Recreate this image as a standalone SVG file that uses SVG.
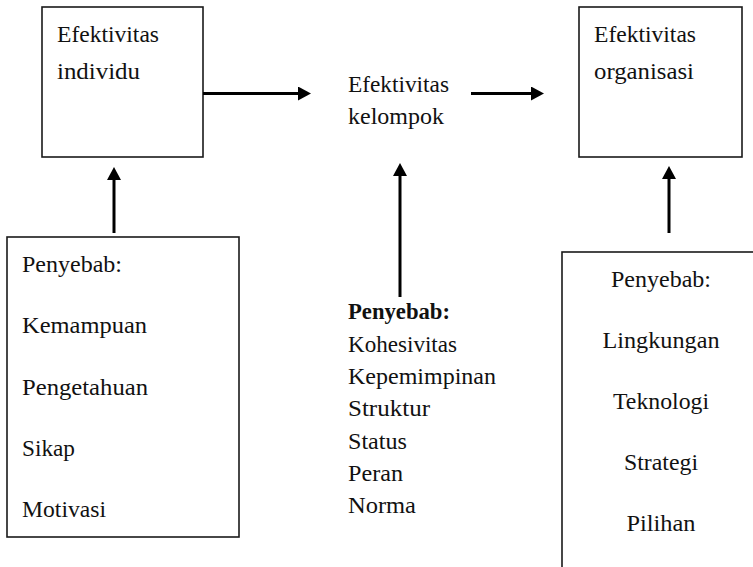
<svg xmlns="http://www.w3.org/2000/svg" width="753" height="567" viewBox="0 0 753 567">
  <style>
    .box { fill: #ffffff; stroke: #1a1a1a; stroke-width: 1.6; }
    .lbl { font-family: "Liberation Serif", "Times New Roman", serif; font-size: 23.5px; fill: #111111; }
    .bold { font-weight: bold; }
    .mid { text-anchor: middle; }
    .conn { stroke: #000000; stroke-width: 3; fill: none; marker-end: url(#head); }
  </style>
  <defs>
    <marker id="head" markerUnits="userSpaceOnUse" markerWidth="14" markerHeight="14" refX="2" refY="7" orient="auto">
      <path d="M0,0 L13,7 L0,14 z" fill="#000000"/>
    </marker>
  </defs>
  <rect x="0" y="0" width="753" height="567" fill="#ffffff"/>

  <!-- individual effectiveness -->
  <g id="individu">
    <rect class="box" x="42" y="7" width="161" height="150"/>
    <text class="lbl" x="57" y="42" textLength="102" lengthAdjust="spacingAndGlyphs">Efektivitas</text>
    <text class="lbl" x="57" y="79" textLength="83" lengthAdjust="spacingAndGlyphs">individu</text>
  </g>

  <!-- group effectiveness -->
  <g id="kelompok">
    <text class="lbl" x="348" y="92" textLength="101" lengthAdjust="spacingAndGlyphs">Efektivitas</text>
    <text class="lbl" x="348" y="124" textLength="96" lengthAdjust="spacingAndGlyphs">kelompok</text>
  </g>

  <!-- organisational effectiveness -->
  <g id="organisasi">
    <rect class="box" x="579" y="7" width="163" height="150"/>
    <text class="lbl" x="594" y="42" textLength="102" lengthAdjust="spacingAndGlyphs">Efektivitas</text>
    <text class="lbl" x="594" y="79" textLength="100" lengthAdjust="spacingAndGlyphs">organisasi</text>
  </g>

  <!-- causes: individual -->
  <g id="penyebab-individu">
    <rect class="box" x="7" y="237" width="232" height="300"/>
    <text class="lbl" x="22" y="272" textLength="100" lengthAdjust="spacingAndGlyphs">Penyebab:</text>
    <text class="lbl" x="22" y="333" textLength="125" lengthAdjust="spacingAndGlyphs">Kemampuan</text>
    <text class="lbl" x="22" y="395" textLength="126" lengthAdjust="spacingAndGlyphs">Pengetahuan</text>
    <text class="lbl" x="22" y="456" textLength="53" lengthAdjust="spacingAndGlyphs">Sikap</text>
    <text class="lbl" x="22" y="517" textLength="84" lengthAdjust="spacingAndGlyphs">Motivasi</text>
  </g>

  <!-- causes: group -->
  <g id="penyebab-kelompok">
    <text class="lbl bold" x="348" y="319" textLength="102" lengthAdjust="spacingAndGlyphs">Penyebab:</text>
    <text class="lbl" x="348" y="352" textLength="109" lengthAdjust="spacingAndGlyphs">Kohesivitas</text>
    <text class="lbl" x="348" y="384" textLength="148" lengthAdjust="spacingAndGlyphs">Kepemimpinan</text>
    <text class="lbl" x="348" y="416" textLength="82" lengthAdjust="spacingAndGlyphs">Struktur</text>
    <text class="lbl" x="348" y="449" textLength="59" lengthAdjust="spacingAndGlyphs">Status</text>
    <text class="lbl" x="348" y="481" textLength="55" lengthAdjust="spacingAndGlyphs">Peran</text>
    <text class="lbl" x="348" y="513" textLength="68" lengthAdjust="spacingAndGlyphs">Norma</text>
  </g>

  <!-- causes: organisation (box runs past the right and bottom edges) -->
  <g id="penyebab-organisasi">
    <rect class="box" x="562" y="252" width="200" height="330"/>
    <text class="lbl mid" x="661" y="287" textLength="100" lengthAdjust="spacingAndGlyphs">Penyebab:</text>
    <text class="lbl mid" x="661" y="348" textLength="117" lengthAdjust="spacingAndGlyphs">Lingkungan</text>
    <text class="lbl mid" x="661" y="409" textLength="96" lengthAdjust="spacingAndGlyphs">Teknologi</text>
    <text class="lbl mid" x="661" y="470" textLength="74" lengthAdjust="spacingAndGlyphs">Strategi</text>
    <text class="lbl mid" x="661" y="531" textLength="69" lengthAdjust="spacingAndGlyphs">Pilihan</text>
  </g>

  <!-- connectors -->
  <g id="connectors">
    <line class="conn" x1="203" y1="93.5" x2="300" y2="93.5"/>
    <line class="conn" x1="471" y1="93.5" x2="533" y2="93.5"/>
    <line class="conn" x1="114" y1="233" x2="114" y2="178"/>
    <line class="conn" x1="400" y1="297" x2="400" y2="174"/>
    <line class="conn" x1="669" y1="233" x2="669" y2="177"/>
  </g>
</svg>
